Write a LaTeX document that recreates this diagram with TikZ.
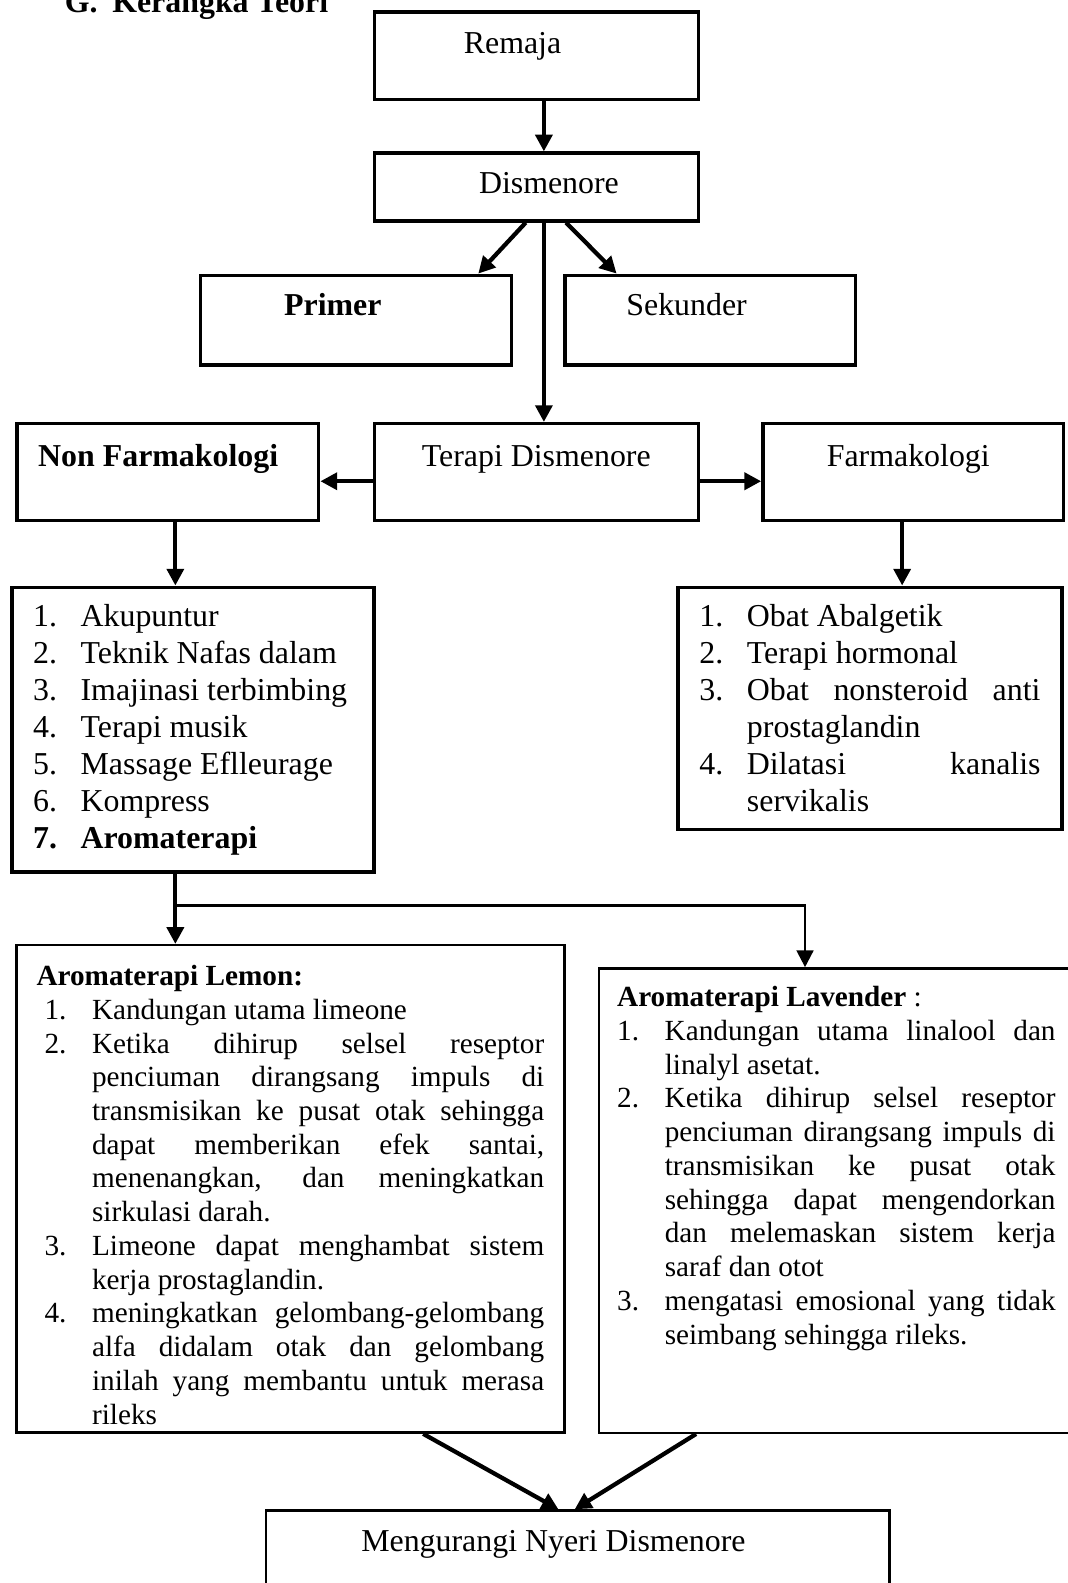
\documentclass[tikz,border=0pt]{standalone}
\usepackage{fontspec}
\setmainfont{Liberation Serif}
\usetikzlibrary{arrows.meta, positioning}

\newcommand{\butir}[3][0pt]{\noindent\hangindent=\dimexpr#1+17.9pt\relax\hangafter=1\hspace*{#1}\makebox[17.9pt][l]{#2}#3\par}
\tolerance=9999
\hyphenpenalty=10000
\exhyphenpenalty=10000

\begin{document}
\begin{tikzpicture}[
      x=0.38pt, y=-0.38pt,
      font=\fontsize{12}{13.9}\selectfont,
      box/.style={draw, line width=1.3pt, inner xsep=0pt, inner ysep=0pt, anchor=north west},
      thinbox/.style={box, line width=0.9pt},
      small/.style={font=\fontsize{11}{12.7}\selectfont},
      arr/.style={-{Triangle[length=6.3pt, width=6.3pt]}, line width=1.6pt}
    ]
    \useasboundingbox (0,0) rectangle (1057,1568);
    \node[anchor=base west, font=\fontsize{12}{14}\selectfont\bfseries] (judul) at (55,12) {G.\hspace{5.5pt}Kerangka Teori};

    \node[box, minimum width=122pt, text height=15.6pt, text depth=17.5pt] (remaja) at (369,10) {Remaja\hspace*{17.9pt}};
    \node[box, minimum width=122pt, text height=15.2pt, text depth=10.3pt] (dismenore) at (369,150) {\hspace*{9.5pt}Dismenore};
    \node[box, minimum width=117pt, text height=15.2pt, text depth=18.6pt] (primer) at (197,271) {\textbf{Primer}\hspace*{17.5pt}};
    \node[box, minimum width=109.4pt, text height=15.2pt, text depth=18.6pt] (sekunder) at (558,271) {Sekunder\hspace*{17.9pt}};
    \node[box, minimum width=113.6pt, text height=16pt, text depth=20.5pt] (nonfarm) at (15,418) {\textbf{Non Farmakologi}\hspace*{7.2pt}};
    \node[box, minimum width=122pt, text height=16pt, text depth=20.5pt] (terapi) at (369,418) {Terapi Dismenore};
    \node[box, minimum width=113.2pt, text height=16pt, text depth=20.5pt] (farm) at (754,418) {Farmakologi\hspace*{3.8pt}};

    \node[box, inner xsep=8pt, text width=120.4pt, align=justify, text height=14.8pt, text depth=92.4pt] (nonlist) at (10,580) {\butir{1.}{Akupuntur}
      \butir{2.}{Teknik Nafas dalam}
      \butir{3.}{Imajinasi terbimbing}
      \butir{4.}{Terapi musik}
      \butir{5.}{Massage Eflleurage}
      \butir{6.}{Kompress}
      \butir{\textbf{7.}}{\textbf{Aromaterapi}}};
    \node[box, inner xsep=8pt, text width=128.4pt, align=justify, text height=14.8pt, text depth=76.4pt] (farmlist) at (670,580) {\butir{1.}{Obat Abalgetik}
      \butir{2.}{Terapi hormonal}
      \butir{3.}{Obat nonsteroid anti\linebreak prostaglandin}
      \butir{4.}{Dilatasi kanalis\linebreak servikalis}};

    \node[thinbox, small, inner xsep=7.6pt, text width=191.1pt, align=justify, text height=15.2pt, text depth=168.3pt] (lemon) at (15,935) {\textbf{Aromaterapi Lemon:}\par
      \butir[3pt]{1.}{Kandungan utama limeone}
      \butir[3pt]{2.}{Ketika dihirup selsel reseptor\linebreak penciuman dirangsang impuls di\linebreak transmisikan ke pusat otak sehingga\linebreak dapat memberikan efek santai,\linebreak menenangkan, dan meningkatkan\linebreak sirkulasi darah.}
      \butir[3pt]{3.}{Limeone dapat menghambat sistem\linebreak kerja prostaglandin.}
      \butir[3pt]{4.}{meningkatkan gelombang-gelombang\linebreak alfa didalam otak dan gelombang\linebreak inilah yang membantu untuk merasa\linebreak rileks}};
    \node[thinbox, small, inner xsep=6.9pt, text width=165pt, align=justify, text height=14.4pt, text depth=160.4pt] (lavender) at (592,958) {\textbf{Aromaterapi Lavender} :\par
      \butir{1.}{Kandungan utama linalool dan\linebreak linalyl asetat.}
      \butir{2.}{Ketika dihirup selsel reseptor\linebreak penciuman dirangsang impuls di\linebreak transmisikan ke pusat otak\linebreak sehingga dapat mengendorkan\linebreak dan melemaskan sistem kerja\linebreak saraf dan otot}
      \butir{3.}{mengatasi emosional yang tidak\linebreak seimbang sehingga rileks.}};

    \node[thinbox, minimum width=234.8pt, text height=15.6pt, text depth=21pt] (hasil) at (262,1495) {Mengurangi Nyeri Dismenore\hspace*{18.2pt}};

    % arrows
    \draw[arr] ([xshift=2.85pt]remaja.south) -- ([xshift=2.85pt]dismenore.north);
    \draw[arr] ([xshift=-4pt]dismenore.south) -- ([xshift=46pt]primer.north);
    \draw[arr] ([xshift=11.2pt]dismenore.south) -- ([xshift=-35.3pt]sekunder.north);
    \draw[arr] ([xshift=2.85pt]dismenore.south) -- ([xshift=2.85pt]terapi.north);
    \draw[arr] ([yshift=-3.4pt]terapi.west) -- ([yshift=-3.4pt]terapi.west -| nonfarm.east);
    \draw[arr] ([yshift=-3.4pt]terapi.east) -- ([yshift=-3.4pt]terapi.east -| farm.west);
    \draw[arr] ([xshift=2.85pt]nonfarm.south) -- ([xshift=2.85pt]nonfarm.south |- nonlist.north);
    \draw[arr] ([xshift=-4.2pt]farm.south) -- ([xshift=-4.2pt]farm.south |- farmlist.north);
    \draw[arr] ([xshift=-6.65pt]nonlist.south) -- ([xshift=-6.65pt]nonlist.south |- lemon.north);
    \coordinate (cabang) at (172,897);
    \draw[arr, line width=0.9pt] (cabang) -| ([xshift=-11.8pt]lavender.north);
    \draw[arr] ([xshift=50pt]lemon.south) -- ([xshift=-7.2pt]hasil.north);
    \draw[arr] ([xshift=-52.8pt]lavender.south) -- ([xshift=-1.1pt]hasil.north);
  \end{tikzpicture}
\end{document}
